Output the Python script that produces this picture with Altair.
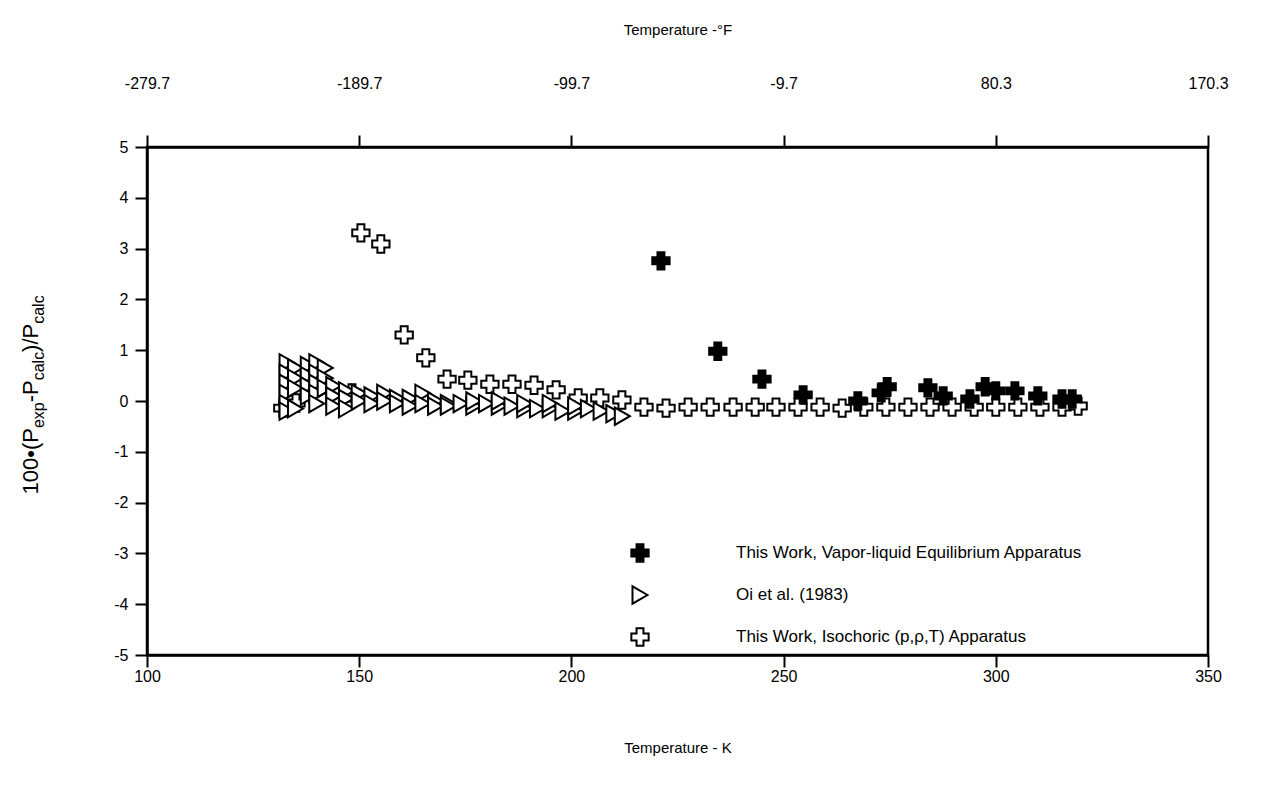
import altair as alt
import pandas as pd

# ---------------- data ----------------
vle_T = [221.1, 234.5, 244.9, 254.6, 267.5, 273.0, 274.4, 284.0, 287.6, 293.9,
         297.5, 300.0, 304.5, 309.9, 315.6, 318.0]
vle_dev = [2.76, 0.98, 0.43, 0.12, 0.00, 0.16, 0.28, 0.26, 0.10, 0.04,
           0.28, 0.20, 0.20, 0.10, 0.04, 0.04]

oi_T = [133, 133, 133, 133, 133, 133,
        135, 135, 135, 135,
        138, 138, 138, 138,
        140, 140, 140, 140, 140,
        142, 142, 142,
        144, 144, 144,
        147, 147, 147,
        150, 150, 153, 153, 156, 156, 159, 159, 162, 162, 165, 165,
        168, 168, 171, 171, 174, 177, 177, 180, 183, 183, 186, 189, 189,
        192, 195, 195, 198, 201, 201, 204, 207, 210, 212]
oi_dev = [0.75, 0.55, 0.35, 0.15, -0.05, -0.20,
          0.65, 0.45, 0.25, -0.15,
          0.70, 0.50, 0.30, 0.10,
          0.75, 0.55, 0.35, 0.15, -0.05,
          0.65, 0.45, 0.25,
          0.30, 0.10, -0.10,
          0.20, 0.05, -0.15,
          0.15, 0.00, 0.10, -0.05, 0.15, 0.00, 0.05, -0.05, 0.05, -0.10, 0.15, -0.05,
          0.00, -0.10, -0.05, -0.10, -0.05, -0.10, 0.00, -0.05, -0.10, 0.00, -0.10, -0.15, -0.05,
          -0.15, -0.15, -0.05, -0.20, -0.20, -0.10, -0.15, -0.20, -0.25, -0.30]

iso_T = [132.0, 135.1, 148.3, 150.4, 155.1, 160.6, 165.7, 170.7, 175.6, 180.8,
         186.0, 191.2, 196.4, 201.6, 206.7, 211.9, 217.1, 222.3, 227.5, 232.7,
         238.1, 243.3, 248.2, 253.4, 258.6, 263.8, 268.9, 274.1, 279.3, 284.5,
         289.7, 294.9, 300.0, 305.2, 310.4, 315.6, 319.4]
iso_dev = [-0.14, -0.04, 0.16, 3.31, 3.09, 1.30, 0.85, 0.43, 0.41, 0.33,
           0.33, 0.31, 0.22, 0.06, 0.06, 0.02, -0.12, -0.14, -0.12, -0.12,
           -0.12, -0.12, -0.12, -0.12, -0.12, -0.14, -0.12, -0.12, -0.12, -0.12,
           -0.12, -0.12, -0.12, -0.12, -0.12, -0.12, -0.10]

series_names = ["This Work, Vapor-liquid Equilibrium Apparatus",
                "Oi et al. (1983)",
                "This Work, Isochoric (p,\u03c1,T) Apparatus"]

x_ticks = [100, 150, 200, 250, 300, 350]
y_ticks = [-5, -4, -3, -2, -1, 0, 1, 2, 3, 4, 5]

# ---------------- table ----------------
df = pd.concat([
    pd.DataFrame({"T": iso_T, "dev": iso_dev, "series": series_names[2], "order": 0}),
    pd.DataFrame({"T": oi_T, "dev": oi_dev, "series": series_names[1], "order": 1}),
    pd.DataFrame({"T": vle_T, "dev": vle_dev, "series": series_names[0], "order": 2}),
], ignore_index=True)

FONT = "Liberation Sans"

xscale = alt.Scale(domain=[100, 350], nice=False, zero=False)
yscale = alt.Scale(domain=[-5, 5], nice=False, zero=False)

bottom_axis = alt.Axis(orient="bottom", values=x_ticks, title="Temperature - K",
                       labelPadding=1, titlePadding=56, tickSize=12, labelFlush=False)
top_axis = alt.Axis(orient="top", values=x_ticks, title="Temperature -\u00b0F",
                    labelExpr="replace(format(datum.value*1.8-459.67, '.1f'), '\u2212', '-')",
                    labelPadding=44, titlePadding=38, tickSize=12, labelFlush=False)
left_axis = alt.Axis(values=y_ticks, title=None, labelPadding=7, tickSize=12,
                     labelExpr="replace(datum.label, '\u2212', '-')")

zero_rule = alt.Chart(pd.DataFrame({"T": [100]})).mark_rule(
    color="black", strokeWidth=2.5
).encode(
    x=alt.X("T:Q", scale=xscale, axis=top_axis),
    y=alt.datum(0),
)

points = alt.Chart(df).mark_point(filled=True, strokeWidth=2, opacity=1).encode(
    x=alt.X("T:Q", scale=xscale, axis=bottom_axis),
    y=alt.Y("dev:Q", scale=yscale, axis=left_axis),
    shape=alt.Shape("series:N", scale=alt.Scale(domain=series_names,
                    range=["cross", "triangle-right", "cross"]), title=None),
    fill=alt.Fill("series:N", scale=alt.Scale(domain=series_names,
                  range=["black", "white", "white"]), title=None),
    stroke=alt.Stroke("series:N", scale=alt.Scale(domain=series_names,
                      range=["black", "black", "black"]), title=None),
    size=alt.Size("series:N", scale=alt.Scale(domain=series_names,
                  range=[300, 300, 230]), title=None),
    order=alt.Order("order:Q"),
)

# y-axis title with subscripts, built from text pieces
one = pd.DataFrame({"a": [0]})
def piece(txt, y, size, x):
    return alt.Chart(one).mark_text(
        text=txt, angle=270, align="left", baseline="alphabetic",
        font=FONT, fontSize=size, color="black"
    ).encode(x=alt.value(x), y=alt.value(y))

ytitle = [
    piece("100\u2022(P", 347.5, 22, -109),
    piece("exp", 281.1, 16, -103),
    piece("-P", 255.3, 22, -109),
    piece("calc", 233.3, 16, -103),
    piece(")/P", 204.9, 22, -109),
    piece("calc", 176.8, 16, -103),
]

chart = alt.layer(zero_rule, points, *ytitle).resolve_axis(x="independent").properties(
    width=1061, height=508,
    padding={"left": 139, "top": 139, "right": 40, "bottom": 120},
    autosize=alt.AutoSizeParams(type="none"),
    background="white",
).configure_view(
    stroke="black", strokeWidth=2.5
).configure_axis(
    grid=False, domainColor="black", domainWidth=2.5, tickColor="black",
    tickWidth=2, labelColor="black", labelFont=FONT, labelFontSize=16,
    titleFont=FONT, titleFontSize=15, titleFontWeight="normal", titleColor="black",
).configure_legend(
    orient="none", legendX=483, legendY=396, padding=0,
    labelFont=FONT, labelFontSize=17, labelColor="black", labelOffset=86,
    rowPadding=16, symbolStrokeWidth=2, labelLimit=500,
)

chart.save("out.html", embed_options={"renderer": "svg", "actions": False})
